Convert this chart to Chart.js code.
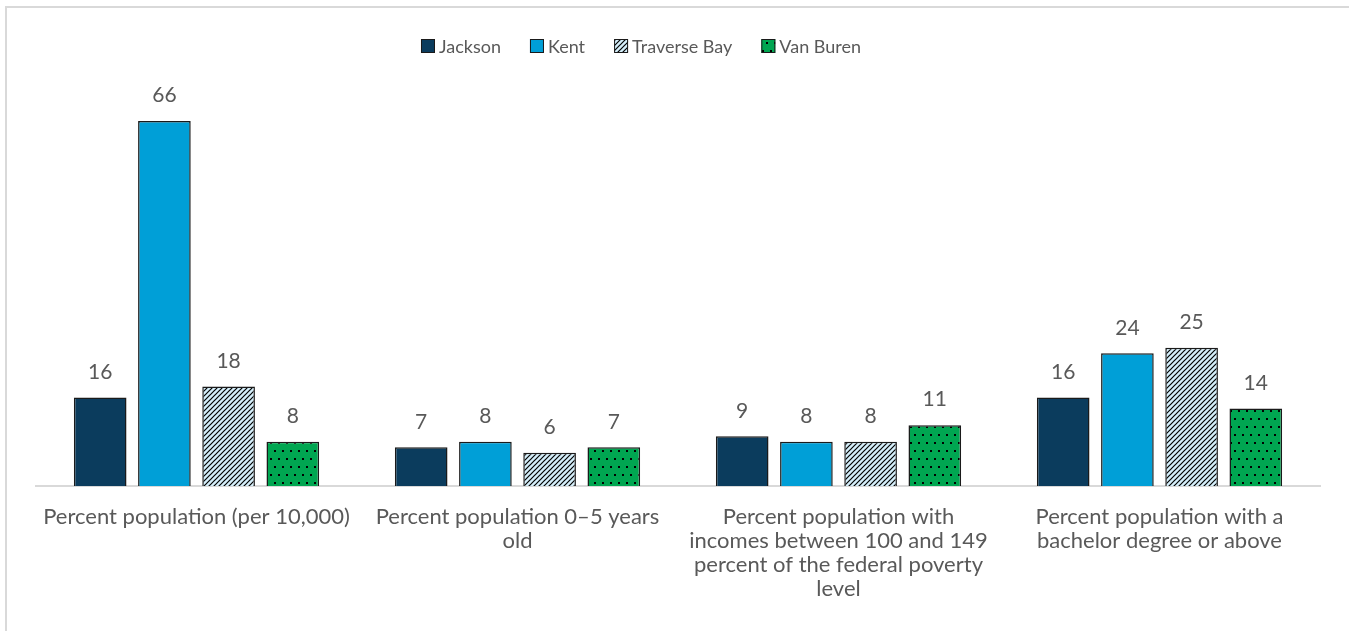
<!DOCTYPE html>
<html>
<head>
<meta charset="utf-8">
<script src="https://cdn.jsdelivr.net/npm/chart.js@4.4.1/dist/chart.umd.min.js"></script>
<style>
  html, body { margin: 0; padding: 0; background: #fff; }
  #wrap { position: relative; width: 1349px; height: 631px; overflow: hidden; }
  #frame { position: absolute; left: 5px; top: 6px; width: 1400px; height: 700px;
           border-left: 2px solid #d9d9d9; border-top: 2px solid #d9d9d9; }
  #chart { position: absolute; left: 0; top: 0; }
</style>
</head>
<body>
<div id="wrap">
  <div id="frame"></div>
  <canvas id="chart" width="1349" height="631"></canvas>
</div>
<script>
const CATEGORIES = [
  ['Percent population (per 10,000)'],
  ['Percent population 0\u20135 years', 'old'],
  ['Percent population with', 'incomes between 100 and 149', 'percent of the federal poverty', 'level'],
  ['Percent population with a', 'bachelor degree or above'],
]
const SERIES = ['Jackson', 'Kent', 'Traverse Bay', 'Van Buren']
const JACKSON = [16, 7, 9, 16]
const KENT = [66, 8, 8, 24]
const TRAVERSE_BAY = [18, 6, 8, 25]
const VAN_BUREN = [8, 7, 11, 14]

const FONT = 'Lato, "Open Sans", sans-serif'
const TEXT = '#595959'

function hatchPattern() {
  const c = document.createElement('canvas')
  c.width = 5; c.height = 5
  const g = c.getContext('2d')
  g.fillStyle = '#d4eefa'
  g.fillRect(0, 0, 5, 5)
  g.strokeStyle = '#000'
  g.lineWidth = 1.2
  g.beginPath()
  g.moveTo(-1, 6); g.lineTo(6, -1)
  g.moveTo(-6, 6); g.lineTo(1, -1)
  g.moveTo(4, 6); g.lineTo(11, -1)
  g.stroke()
  return g.createPattern(c, 'repeat')
}

function dotPattern() {
  const c = document.createElement('canvas')
  c.width = 8; c.height = 16
  const g = c.getContext('2d')
  g.fillStyle = '#00a651'
  g.fillRect(0, 0, 8, 16)
  g.fillStyle = '#000'
  g.fillRect(2, 2, 2, 2)
  g.fillRect(6, 10, 2, 2)
  return g.createPattern(c, 'repeat')
}

const valueLabels = {
  id: 'valueLabels',
  afterDatasetsDraw(chart) {
    const ctx = chart.ctx
    ctx.save()
    ctx.font = '21px ' + FONT
    ctx.fillStyle = TEXT
    ctx.textAlign = 'center'
    ctx.textBaseline = 'bottom'
    chart.data.datasets.forEach((ds, i) => {
      chart.getDatasetMeta(i).data.forEach((bar, j) => {
        ctx.fillText(ds.data[j], bar.x, bar.y - 15)
      })
    })
    ctx.restore()
  }
}

// legend drawn by hand so box/text spacing matches the original
const topLegend = {
  id: 'topLegend',
  afterDraw(chart) {
    const ctx = chart.ctx
    const box = 14, gap = 4, space = 29, cx = 641, cy = 46
    ctx.save()
    ctx.font = '18px ' + FONT
    const items = chart.data.datasets.map(ds => ({ ds, w: ctx.measureText(ds.label).width }))
    const total = items.reduce((s, it) => s + box + gap + it.w, 0) + space * (items.length - 1)
    let x = cx - total / 2
    ctx.textBaseline = 'middle'
    items.forEach(it => {
      ctx.fillStyle = it.ds.backgroundColor
      ctx.fillRect(x, cy - box / 2, box, box)
      ctx.strokeStyle = '#1a1a1a'
      ctx.lineWidth = 1
      ctx.strokeRect(x + 0.5, cy - box / 2 + 0.5, box - 1, box - 1)
      ctx.fillStyle = TEXT
      ctx.fillText(it.ds.label, x + box + gap, cy + 1)
      x += box + gap + it.w + space
    })
    ctx.restore()
  }
}

const barStyle = { borderColor: '#1a1a1a', borderWidth: 1.5, categoryPercentage: 0.8, barPercentage: 0.82 }

new Chart(document.getElementById('chart'), {
  type: 'bar',
  data: {
    labels: CATEGORIES,
    datasets: [
      { label: SERIES[0], data: JACKSON, backgroundColor: '#0b3c5d', ...barStyle },
      { label: SERIES[1], data: KENT, backgroundColor: '#009fd7', ...barStyle },
      { label: SERIES[2], data: TRAVERSE_BAY, backgroundColor: hatchPattern(), ...barStyle },
      { label: SERIES[3], data: VAN_BUREN, backgroundColor: dotPattern(), ...barStyle },
    ],
  },
  options: {
    responsive: false,
    animation: false,
    layout: { padding: { left: 36, right: 29, top: 99, bottom: 19 } },
    plugins: {
      legend: { display: false },
      tooltip: { enabled: false },
    },
    scales: {
      x: {
        grid: { display: false },
        border: { color: '#d9d9d9', width: 2 },
        ticks: {
          color: TEXT,
          font: { size: 22, family: FONT, lineHeight: '24px' },
          maxRotation: 0,
          autoSkip: false,
          padding: 11,
        },
      },
      y: {
        display: false,
        min: 0,
        max: 70,
      },
    },
  },
  plugins: [valueLabels, topLegend],
})
</script>
</body>
</html>
